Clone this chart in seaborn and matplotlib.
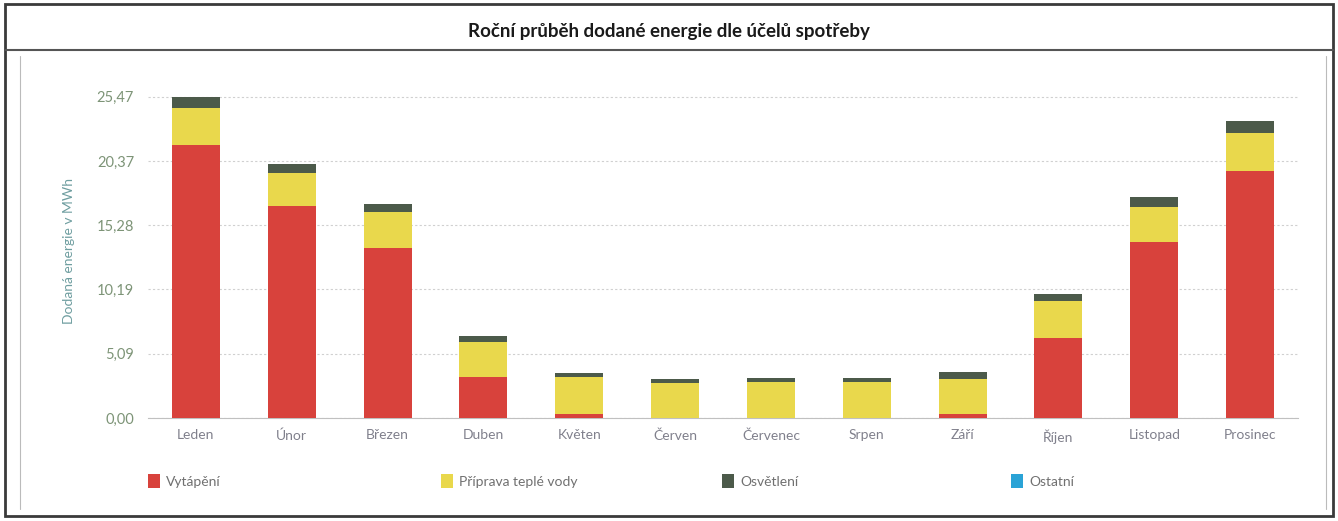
import numpy as np
import pandas as pd
import matplotlib
matplotlib.use('Agg')
import matplotlib.pyplot as plt
from matplotlib.patches import Patch, Rectangle
from matplotlib.lines import Line2D
import seaborn as sns

# data (MWh)
mesice = ['Leden', 'Únor', 'Březen', 'Duben', 'Květen', 'Červen',
          'Červenec', 'Srpen', 'Září', 'Říjen', 'Listopad', 'Prosinec']
vytapeni = [21.64, 16.83, 13.44, 3.29, 0.29, 0.0, 0.0, 0.0, 0.32, 6.33, 13.98, 19.62]
tepla_voda = [2.96, 2.57, 2.91, 2.74, 2.96, 2.78, 2.88, 2.83, 2.78, 2.91, 2.75, 2.94]
osvetleni = [0.87, 0.71, 0.63, 0.48, 0.35, 0.28, 0.29, 0.31, 0.53, 0.63, 0.82, 1.01]
ostatni = [0.0] * 12
y_ticks = [0.00, 5.09, 10.19, 15.28, 20.37, 25.47]
serie = ['Vytápění', 'Příprava teplé vody', 'Osvětlení', 'Ostatní']
barvy = ['#d8423c', '#e9d84c', '#4c5a4a', '#2aa3d6']

df = pd.DataFrame({'mesic': mesice, 'Vytápění': vytapeni,
                   'Příprava teplé vody': tepla_voda,
                   'Osvětlení': osvetleni, 'Ostatní': ostatni})
# cumulative sums -> stacked bars by overdrawing
cum = df[serie].cumsum(axis=1)
cum['mesic'] = df['mesic']

sns.set_style('white')
plt.rcParams['font.family'] = ['Lato', 'DejaVu Sans']

fig = plt.figure(figsize=(13.38, 5.21), dpi=100)
ax = fig.add_axes([148 / 1338, 103 / 521, 1150 / 1338, 333 / 521])

for s, c in reversed(list(zip(serie, barvy))):
    sns.barplot(data=cum, x='mesic', y=s, order=mesice, color=c,
                width=0.5, saturation=1, ax=ax, zorder=3,
                edgecolor='none', linewidth=0)

ax.set_ylim(0, 26.4)
ax.set_xlim(-0.5, 11.5)
ax.set_yticks(y_ticks)
ax.set_yticklabels([f'{v:.2f}'.replace('.', ',') for v in y_ticks])
ax.yaxis.grid(True, color='#d0d0d0', linestyle=(0, (2, 2)), linewidth=0.8, zorder=0)
ax.set_xlabel('')
ax.set_ylabel('Dodaná energie v MWh', color='#6f9ea0', fontsize=10, labelpad=16)
for sp in ['top', 'right', 'left']:
    ax.spines[sp].set_visible(False)
ax.spines['bottom'].set_color('#c0c0c0')
ax.spines['bottom'].set_linewidth(0.8)
ax.tick_params(axis='y', length=0, labelsize=10.5, labelcolor='#7d9477', pad=10)
ax.tick_params(axis='x', length=0, labelsize=10, labelcolor='#80808c', pad=8)
ax.set_xticks(np.arange(-0.5, 12, 1), minor=True)
ax.tick_params(axis='x', which='minor', length=4, color='#c0c0c0', direction='out')

# title
fig.text(0.5, 1 - 32 / 521, 'Roční průběh dodané energie dle účelů spotřeby',
         ha='center', va='center', fontsize=13.5, fontweight='bold', color='#1a1a1a')

# legend, one entry per position
leg_x = [148, 441, 722, 1011]
for s, c, x in zip(serie, barvy, leg_x):
    fig.legend(handles=[Patch(facecolor=c, edgecolor='none', label=s)],
               loc='center left', bbox_to_anchor=(x / 1338, 1 - 481 / 521),
               frameon=False, borderpad=0, borderaxespad=0,
               handlelength=0.85, handleheight=1.2, handletextpad=0.45,
               fontsize=10, labelcolor='#707070')

# frames
fig.add_artist(Rectangle((5 / 1338, 5 / 521), 1328 / 1338, 512 / 521,
                         transform=fig.transFigure, fill=False,
                         edgecolor='#3a3a3a', linewidth=2))
fig.add_artist(Line2D([5 / 1338, 1333 / 1338], [1 - 50 / 521, 1 - 50 / 521],
                      transform=fig.transFigure, color='#555555', linewidth=1.5))
fig.add_artist(Line2D([20 / 1338, 20 / 1338], [12 / 521, 1 - 56 / 521],
                      transform=fig.transFigure, color='#bbbbbb', linewidth=0.8))
fig.add_artist(Line2D([1326 / 1338, 1326 / 1338], [12 / 521, 1 - 56 / 521],
                      transform=fig.transFigure, color='#bbbbbb', linewidth=0.8))

fig.savefig('out.png', dpi=100)
